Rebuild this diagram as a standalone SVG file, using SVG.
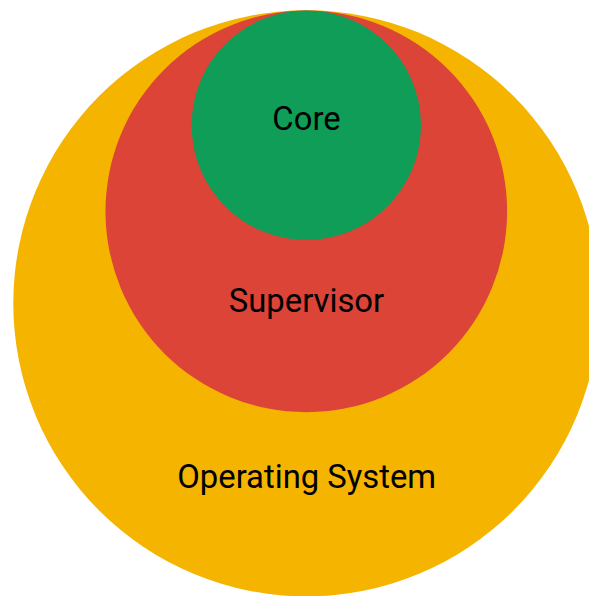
<svg xmlns="http://www.w3.org/2000/svg" width="589" height="596" viewBox="0 0 589 596">
  <style>
    .label { font-family: Roboto, "Liberation Sans", sans-serif; font-size: 32.8px; fill: #000000; text-anchor: middle; }
    .os { fill: #F4B400; }
    .sup { fill: #DB4437; }
    .core { fill: #0F9D58; }
  </style>
  <rect width="589" height="596" fill="#FFFFFF"/>
  <g id="operating-system">
    <circle class="os" cx="306.3" cy="303.3" r="293"/>
    <text class="label" x="306.7" y="488">Operating System</text>
  </g>
  <g id="supervisor">
    <circle class="sup" cx="306.3" cy="211.4" r="200.8"/>
    <text class="label" x="306.5" y="311.7">Supervisor</text>
  </g>
  <g id="core">
    <circle class="core" cx="306.3" cy="125.3" r="114.7"/>
    <text class="label" x="306.5" y="130">Core</text>
  </g>
  <g id="connectors"/>
</svg>
